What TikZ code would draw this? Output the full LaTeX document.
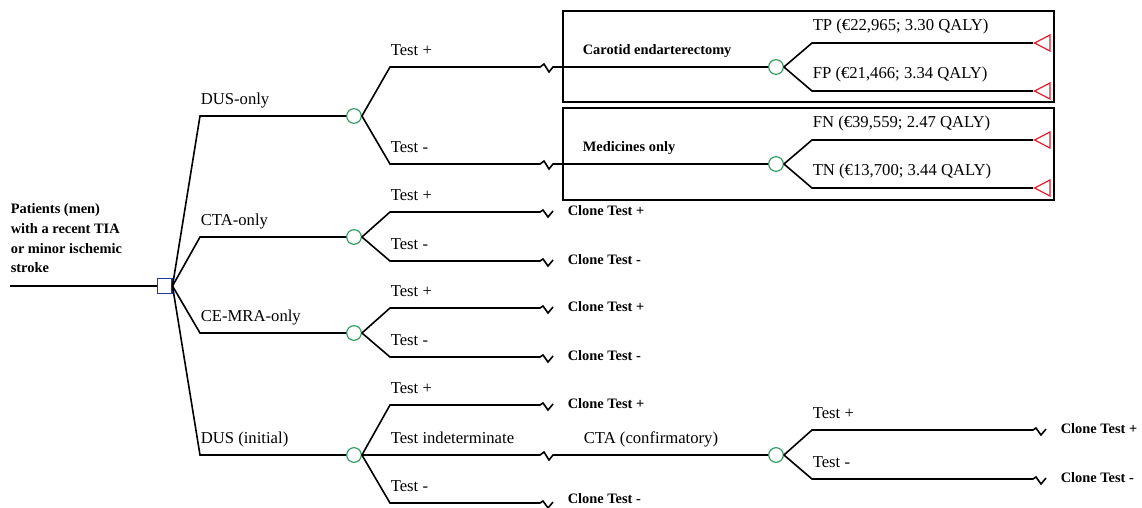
\documentclass[tikz,border=0pt]{standalone}
\usepackage{fontspec}
\setmainfont{Liberation Serif}
\usetikzlibrary{positioning,shapes.geometric,calc}
\definecolor{chancegreen}{RGB}{50,155,95}
\definecolor{decblue}{RGB}{30,60,160}
\definecolor{termred}{RGB}{225,30,40}

\begin{document}
\begin{tikzpicture}[
		x=0.75pt, y=-0.75pt,
		line width=1.2pt,
		chance/.style={draw=chancegreen,circle,fill=white,minimum size=11pt,inner sep=0pt,line width=0.9pt},
		decision/.style={draw=decblue,rectangle,fill=white,minimum size=11pt,inner sep=0pt,line width=1pt},
		terminal/.style={draw=termred,isosceles triangle,isosceles triangle stretches,shape border rotate=180,minimum width=12pt,minimum height=11.5pt,inner sep=0pt,anchor=apex,line width=0.9pt},
		lbl/.style={anchor=base west,inner sep=0pt,font=\fontsize{12.5}{15}\selectfont},
		boldlbl/.style={anchor=base west,inner sep=0pt,font=\fontsize{10.8}{14.8}\selectfont\bfseries},
		clonelbl/.style={boldlbl,anchor=west},
		brk/.style={to path={-- ++(4,-3) -- ++(5,8) -- ++(4,-5) -- (\tikztotarget)}}
		]
		\useasboundingbox (0,0) rectangle (1142,507);
		
		% outcome boxes
		\draw[line width=1pt] (563,11) rectangle (1054,102);
		\draw[line width=1pt] (563,108) rectangle (1054,200);
		
		% decision and chance nodes
		\coordinate (root) at (10,286);
		\node[decision] (dec) at (164.5,286) {};
		\node[chance] (ch1) at (354,116) {};
		\node[chance] (ch2) at (354,237) {};
		\node[chance] (ch3) at (354,333) {};
		\node[chance] (ch4) at (354,455) {};
		\node[chance] (ch5) at (776,67) {};
		\node[chance] (ch6) at (776,164) {};
		\node[chance] (ch7) at (776,455) {};
		
		% terminal nodes
		\node[terminal] (t1) at (1033,43) {};
		\node[terminal] (t2) at (1033,91) {};
		\node[terminal] (t3) at (1033,140) {};
		\node[terminal] (t4) at (1033,188) {};
		
		% bends of the branches
		\coordinate (a1) at (200,116);
		\coordinate (a2) at (200,237);
		\coordinate (a3) at (200,333);
		\coordinate (a4) at (200,455);
		\coordinate (b11) at (390,67);  \coordinate (z11) at (540,67);
		\coordinate (b12) at (390,164); \coordinate (z12) at (540,164);
		\coordinate (b21) at (390,212); \coordinate (z21) at (540,212);
		\coordinate (b22) at (390,261); \coordinate (z22) at (540,261);
		\coordinate (b31) at (390,308); \coordinate (z31) at (540,308);
		\coordinate (b32) at (390,357); \coordinate (z32) at (540,357);
		\coordinate (b41) at (390,405); \coordinate (z41) at (540,405);
		\coordinate (b42) at (390,455); \coordinate (z42) at (540,455);
		\coordinate (b43) at (390,503); \coordinate (z43) at (540,503);
		\coordinate (c51) at (812,43);
		\coordinate (c52) at (812,91);
		\coordinate (c61) at (812,140);
		\coordinate (c62) at (812,188);
		\coordinate (c71) at (812,430); \coordinate (z71) at (1033,430);
		\coordinate (c72) at (812,479); \coordinate (z72) at (1033,479);
		
		% Draw the tree
		\draw (root) -- (dec.west);
		\draw (dec.east) -- (a1) -- (ch1);
		\draw (dec.east) -- (a2) -- (ch2);
		\draw (dec.east) -- (a3) -- (ch3);
		\draw (dec.east) -- (a4) -- (ch4);
		
		\draw (ch1.east) -- (b11) -- (z11) to[brk] (ch5);
		\draw (ch1.east) -- (b12) -- (z12) to[brk] (ch6);
		\draw (ch5.east) -- (c51) -- (t1.apex);
		\draw (ch5.east) -- (c52) -- (t2.apex);
		\draw (ch6.east) -- (c61) -- (t3.apex);
		\draw (ch6.east) -- (c62) -- (t4.apex);
		
		\draw (ch2.east) -- (b21) -- (z21) -- ++(3,-2) -- ++(5,7) -- ++(5,-6) coordinate (e21);
		\draw (ch2.east) -- (b22) -- (z22) -- ++(3,-2) -- ++(5,7) -- ++(5,-6) coordinate (e22);
		\draw (ch3.east) -- (b31) -- (z31) -- ++(3,-2) -- ++(5,7) -- ++(5,-6) coordinate (e31);
		\draw (ch3.east) -- (b32) -- (z32) -- ++(3,-2) -- ++(5,7) -- ++(5,-6) coordinate (e32);
		\draw (ch4.east) -- (b41) -- (z41) -- ++(3,-2) -- ++(5,7) -- ++(5,-6) coordinate (e41);
		\draw (ch4.east) -- (z42) to[brk] (ch7);
		\draw (ch4.east) -- (b43) -- (z43) -- ++(3,-2) -- ++(5,7) -- ++(5,-6) coordinate (e43);
		\draw (ch7.east) -- (c71) -- (z71) -- ++(3,-2) -- ++(5,7) -- ++(5,-6) coordinate (e71);
		\draw (ch7.east) -- (c72) -- (z72) -- ++(3,-2) -- ++(5,7) -- ++(5,-6) coordinate (e72);
		
		% denote
		\node[boldlbl,anchor=north west,align=left] (pat) at (10,203) {Patients (men)\\with a recent TIA\\or minor ischemic\\stroke};
		\node[lbl] (l1) at ([yshift=9pt]a1) {DUS-only};
		\node[lbl] (l2) at ([yshift=9pt]a2) {CTA-only};
		\node[lbl] (l3) at ([yshift=9pt]a3) {CE-MRA-only};
		\node[lbl] (l4) at ([yshift=9pt]a4) {DUS (initial)};
		\node[lbl] (l11) at ([yshift=9pt]b11) {Test +};
		\node[lbl] (l12) at ([yshift=9pt]b12) {Test -};
		\node[lbl] (l21) at ([yshift=9pt]b21) {Test +};
		\node[lbl] (l22) at ([yshift=9pt]b22) {Test -};
		\node[lbl] (l31) at ([yshift=9pt]b31) {Test +};
		\node[lbl] (l32) at ([yshift=9pt]b32) {Test -};
		\node[lbl] (l41) at ([yshift=9pt]b41) {Test +};
		\node[lbl] (l42) at ([yshift=9pt]b42) {Test indeterminate};
		\node[lbl] (l43) at ([yshift=9pt]b43) {Test -};
		\node[boldlbl] (cea) at (582,54) {Carotid endarterectomy};
		\node[boldlbl] (med) at (582,151) {Medicines only};
		\node[lbl] (cta) at (583,443) {CTA (confirmatory)};
		\node[lbl] (tp) at ([yshift=9.5pt]c51) {TP (€22,965; 3.30 QALY)};
		\node[lbl] (fp) at ([yshift=9.5pt]c52) {FP (€21,466; 3.34 QALY)};
		\node[lbl] (fn) at ([yshift=9.5pt]c61) {FN (€39,559; 2.47 QALY)};
		\node[lbl] (tn) at ([yshift=9.5pt]c62) {TN (€13,700; 3.44 QALY)};
		\node[lbl] (l71) at ([yshift=9pt]c71) {Test +};
		\node[lbl] (l72) at ([yshift=9pt]c72) {Test -};
		\node[clonelbl, right=10.5pt of e21] (cl21) {Clone Test +};
		\node[clonelbl, right=10.5pt of e22] (cl22) {Clone Test -};
		\node[clonelbl, right=10.5pt of e31] (cl31) {Clone Test +};
		\node[clonelbl, right=10.5pt of e32] (cl32) {Clone Test -};
		\node[clonelbl, right=10.5pt of e41] (cl41) {Clone Test +};
		\node[clonelbl, right=10.5pt of e43, yshift=2.5pt] (cl43) {Clone Test -};
		\node[clonelbl, right=10.5pt of e71] (cl71) {Clone Test +};
		\node[clonelbl, right=10.5pt of e72] (cl72) {Clone Test -};
	\end{tikzpicture}
\end{document}
